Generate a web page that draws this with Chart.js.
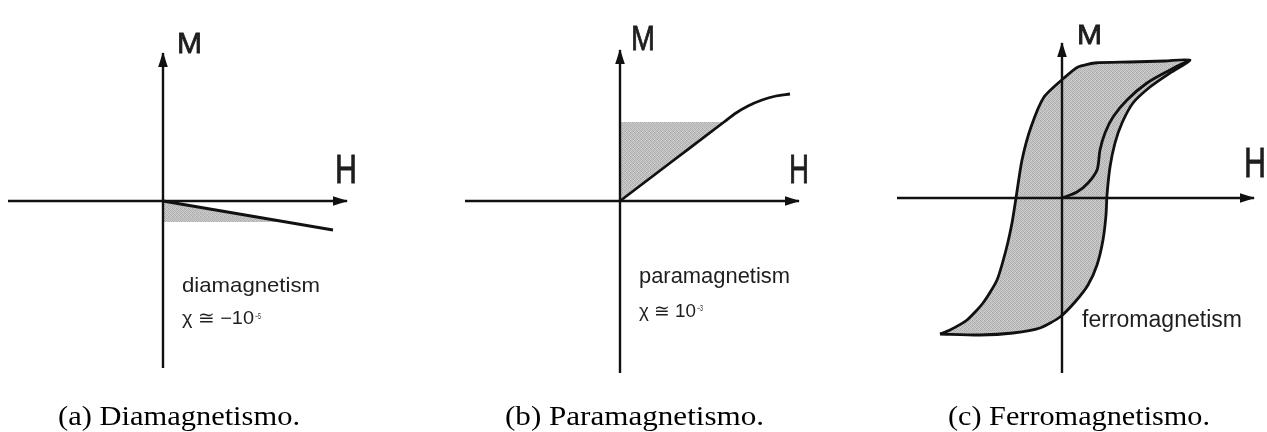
<!DOCTYPE html>
<html>
<head>
<meta charset="utf-8">
<title>M(H)</title>
<script src="https://cdn.jsdelivr.net/npm/chart.js@4.4.1/dist/chart.umd.min.js"></script>
<style>
	html, body { margin: 0; padding: 0; background: #fff; }
	#fig { position: relative; width: 1267px; height: 432px; overflow: hidden; }
	#fig canvas { position: absolute; top: 0; }
</style>
</head>
<body>
<div id="fig">
	<canvas id="dia" width="422" height="432" style="left:0"></canvas>
	<canvas id="para" width="422" height="432" style="left:422px"></canvas>
	<canvas id="ferro" width="423" height="432" style="left:844px"></canvas>
</div>
<script>
// diamagnetism: straight line, negative slope
const diaH = [0, 17.0]
const diaM = [0, -2.9]
const diaShadeH = [0, 0, 12.3, 0]
const diaShadeM = [0, -2.1, -2.1, 0]

// paramagnetism: linear, bending over at high field
const paraH = [0, 5.2, 10.4, 11.6, 12.8, 14.2, 15.6, 17.0]
const paraM = [0, 3.95, 7.9, 8.8, 9.5, 10.1, 10.5, 10.7]
const paraShadeH = [0, 0, 10.4, 0]
const paraShadeM = [0, 7.9, 7.9, 0]

// ferromagnetism: hysteresis loop (lower branch going up, upper branch coming back)
const ferroUpH = [-12.2, -8.2, -4.9, -2.2, -0.2, 1.3, 2.6, 3.5, 4.1, 4.4, 4.5, 4.8, 5.3, 6.0, 7.1, 8.8, 10.8, 12.8]
const ferroUpM = [-13.6, -13.7, -13.5, -13.0, -11.9, -10.4, -8.7, -6.7, -4.2, -1.7, 0.3, 3.1, 5.5, 7.5, 9.5, 11.1, 12.5, 13.8]
const ferroDownH = [10.3, 6.8, 3.3, 1.6, 0.2, -1.8, -3.1, -4.0, -4.6, -5.0, -5.6, -6.5, -7.9, -9.5, -11.2, -12.2]
const ferroDownM = [13.7, 13.6, 13.5, 13.1, 12.0, 10.1, 7.1, 3.8, 0.0, -2.5, -5.2, -8.2, -10.5, -12.2, -13.2, -13.6]
// virgin curve from the demagnetised state
const ferroInitH = [0, 1.5, 2.6, 3.5, 3.8, 4.3, 5.1, 6.5, 8.5, 10.8, 12.8]
const ferroInitM = [0, 0.6, 1.5, 2.8, 4.8, 6.5, 8.1, 9.8, 11.5, 12.8, 13.8]

// axis extents [Hmin, Hmax, Mmin, Mmax]
const diaAxes = [-15.5, 18.4, -16.7, 14.8]
const paraAxes = [-15.5, 17.9, -17.2, 15.1]
const ferroAxes = [-16.5, 19.2, -17.5, 15.5]

const INK = '#111'

function pts(xs, ys) {
	return xs.map((x, i) => ({x: x, y: ys[i]}))
}

// stippled grey used for the shaded areas
function stipple() {
	const c = document.createElement('canvas')
	c.width = 4
	c.height = 4
	const g = c.getContext('2d')
	const shades = [168, 200, 182, 208, 194, 176, 206, 188, 180, 204, 172, 198, 208, 186, 196, 178]
	shades.forEach((v, i) => {
		g.fillStyle = `rgb(${v},${v},${v})`
		g.fillRect(i % 4, Math.floor(i / 4), 1, 1)
	})
	return g.createPattern(c, 'repeat')
}
const SHADE = stipple()

function axisSets(ax) {
	return [
		{data: [{x: ax[0], y: 0}, {x: ax[1], y: 0}], arrow: true, borderColor: INK, borderWidth: 2.4, order: 0},
		{data: [{x: 0, y: ax[2]}, {x: 0, y: ax[3]}], arrow: true, borderColor: INK, borderWidth: 2.4, order: 0},
	]
}

const arrowHeads = {
	id: 'arrowHeads',
	afterDatasetsDraw(chart) {
		const ctx = chart.ctx
		chart.data.datasets.forEach((ds, i) => {
			if (!ds.arrow) return
			const p = chart.getDatasetMeta(i).data
			const a = p[p.length - 2]
			const b = p[p.length - 1]
			ctx.save()
			ctx.translate(b.x, b.y)
			ctx.rotate(Math.atan2(b.y - a.y, b.x - a.x))
			ctx.beginPath()
			ctx.moveTo(1, 0)
			ctx.lineTo(-14, -4.8)
			ctx.lineTo(-14, 4.8)
			ctx.closePath()
			ctx.fillStyle = INK
			ctx.fill()
			ctx.restore()
		})
	}
}

// text squeezed/stretched to a given width
function fitText(ctx, text, x, y, size, width, family, weight) {
	ctx.font = `${size}px ${family}`
	const w = ctx.measureText(text).width
	ctx.save()
	ctx.translate(x, y)
	ctx.scale(width / w, 1)
	ctx.fillText(text, 0, 0)
	if (weight) {
		ctx.lineWidth = weight
		ctx.strokeText(text, 0, 0)
	}
	ctx.restore()
}

const SANS = '"Liberation Sans", Arial, "DejaVu Sans", sans-serif'
const SERIF = '"Liberation Serif", "DejaVu Serif", serif'

function notes(labels, caption) {
	return {
		id: 'notes',
		afterDraw(chart) {
			const {ctx, scales} = chart
			ctx.save()
			ctx.textBaseline = 'alphabetic'
			ctx.textAlign = 'left'
			ctx.fillStyle = '#1e1e1e'
			ctx.strokeStyle = '#1e1e1e'
			labels.forEach(l => {
				const x = scales.x.getPixelForValue(l.at[0])
				const y = scales.y.getPixelForValue(l.at[1])
				fitText(ctx, l.text, x, y, l.size, l.width, SANS, l.weight || 0)
				if (l.sup) {
					fitText(ctx, l.sup, x + l.width + 1, y + l.supDy, l.supSize, l.supWidth, SANS, 0)
				}
			})
			ctx.fillStyle = '#000'
			fitText(ctx, caption.text, caption.x, caption.y, 28, caption.width, SERIF, 0)
			ctx.restore()
		}
	}
}

function panel(id, range, datasets, labels, caption) {
	return new Chart(document.getElementById(id), {
		type: 'scatter',
		data: {datasets: datasets},
		options: {
			responsive: false,
			animation: false,
			layout: {padding: 0},
			events: [],
			elements: {
				point: {radius: 0, hoverRadius: 0},
				line: {borderCapStyle: 'butt', borderJoinStyle: 'round'}
			},
			datasets: {scatter: {showLine: true, fill: false}},
			plugins: {legend: {display: false}, tooltip: {enabled: false}},
			scales: {
				x: {type: 'linear', display: false, min: range[0], max: range[1]},
				y: {type: 'linear', display: false, min: range[2], max: range[3]}
			}
		},
		plugins: [arrowHeads, notes(labels, caption)]
	})
}

panel('dia', [-16.3, 25.9, -23.1, 20.1], [
	...axisSets(diaAxes),
	{data: pts(diaH, diaM), borderColor: INK, borderWidth: 2.8, order: 1},
	{data: pts(diaShadeH, diaShadeM), fill: 'shape', backgroundColor: SHADE, borderWidth: 0, order: 2},
], [
	{text: 'M', at: [1.4, 14.8], size: 29, width: 25, weight: 0.8},
	{text: 'H', at: [17.2, 1.8], size: 40, width: 22, weight: 0.8},
	{text: 'diamagnetism', at: [1.9, -9.1], size: 21, width: 138},
	{text: 'χ ≅ −10', at: [1.9, -12.3], size: 18, width: 72, sup: '−5', supDy: -5, supSize: 9, supWidth: 6},
], {text: '(a) Diamagnetismo.', x: 58, y: 425, width: 242})

panel('para', [-19.8, 22.4, -23.1, 20.1], [
	...axisSets(paraAxes),
	{data: pts(paraH, paraM), borderColor: INK, borderWidth: 2.8, cubicInterpolationMode: 'monotone', order: 1},
	{data: pts(paraShadeH, paraShadeM), fill: 'shape', backgroundColor: SHADE, borderWidth: 0, order: 2},
], [
	{text: 'M', at: [1.1, 15.1], size: 35, width: 24, weight: 0.8},
	{text: 'H', at: [16.9, 1.8], size: 40, width: 20, weight: 0.8},
	{text: 'paramagnetism', at: [1.9, -8.2], size: 22, width: 151},
	{text: 'χ ≅ 10', at: [1.9, -11.6], size: 18, width: 57, sup: '−3', supDy: -6, supSize: 9, supWidth: 6},
], {text: '(b) Paramagnetismo.', x: 83, y: 425, width: 259})

panel('ferro', [-21.8, 20.5, -23.4, 19.8], [
	...axisSets(ferroAxes),
	{data: pts(ferroInitH, ferroInitM), borderColor: INK, borderWidth: 2.8, tension: 0.3, order: 1},
	{data: pts(ferroUpH.concat(ferroDownH), ferroUpM.concat(ferroDownM)), fill: 'shape', backgroundColor: SHADE,
		borderColor: INK, borderWidth: 2.8, tension: 0.22, order: 2},
], [
	{text: 'M', at: [1.5, 15.4], size: 27, width: 25, weight: 0.8},
	{text: 'H', at: [18.2, 2.1], size: 42, width: 22, weight: 0.8},
	{text: 'ferromagnetism', at: [2.0, -12.9], size: 23, width: 160},
], {text: '(c) Ferromagnetismo.', x: 104, y: 425, width: 262})
</script>
</body>
</html>
